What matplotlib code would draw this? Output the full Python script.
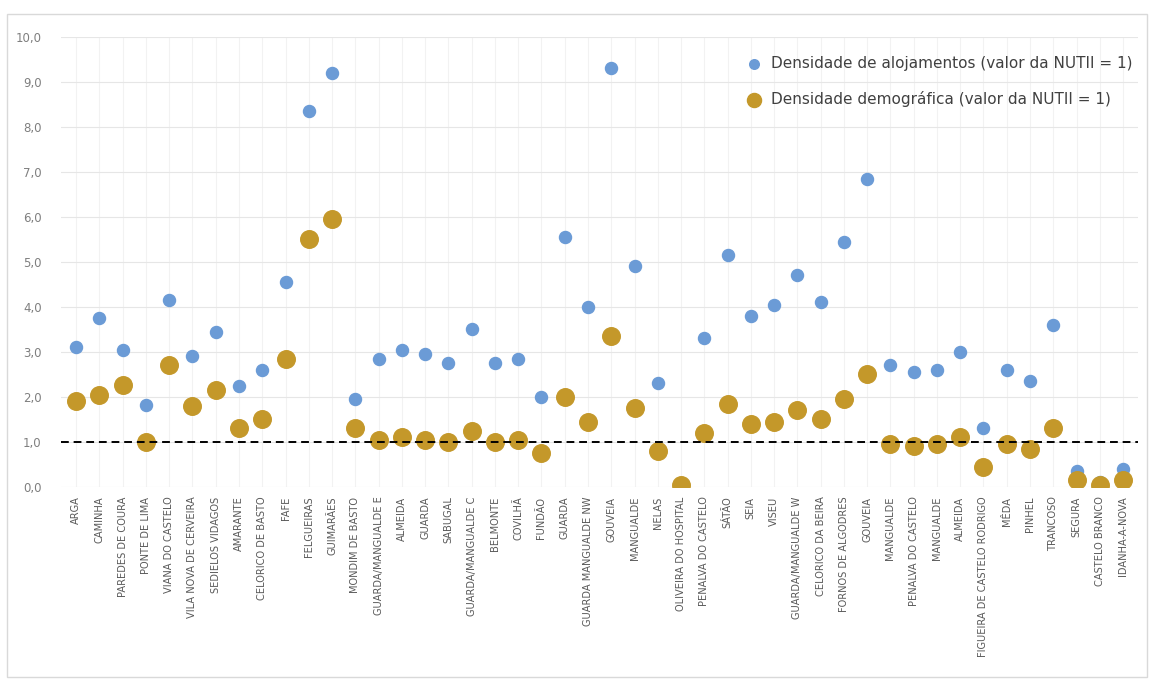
import matplotlib.pyplot as plt
from matplotlib.patches import Rectangle
from matplotlib.ticker import FuncFormatter

categorias = [
    'ARGA', 'CAMINHA', 'PAREDES DE COURA', 'PONTE DE LIMA', 'VIANA DO CASTELO',
    'VILA NOVA DE CERVEIRA', 'SEDIELOS VIDAGOS', 'AMARANTE', 'CELORICO DE BASTO',
    'FAFE', 'FELGUEIRAS', 'GUIMARÃES', 'MONDIM DE BASTO', 'GUARDA/MANGUALDE E',
    'ALMEIDA', 'GUARDA', 'SABUGAL', 'GUARDA/MANGUALDE C', 'BELMONTE', 'COVILHÃ',
    'FUNDÃO', 'GUARDA', 'GUARDA MANGUALDE NW', 'GOUVEIA', 'MANGUALDE', 'NELAS',
    'OLIVEIRA DO HOSPITAL', 'PENALVA DO CASTELO', 'SÁTÃO', 'SEIA', 'VISEU',
    'GUARDA/MANGUALDE W', 'CELORICO DA BEIRA', 'FORNOS DE ALGODRES', 'GOUVEIA',
    'MANGUALDE', 'PENALVA DO CASTELO', 'MANGUALDE', 'ALMEIDA',
    'FIGUEIRA DE CASTELO RODRIGO', 'MÊDA', 'PINHEL', 'TRANCOSO', 'SEGURA',
    'CASTELO BRANCO', 'IDANHA-A-NOVA',
]

dens_alojamentos = [
    3.1, 3.75, 3.05, 1.82, 4.15, 2.9, 3.45, 2.25, 2.6, 4.55,
    8.35, 9.2, 1.95, 2.85, 3.05, 2.95, 2.75, 3.5, 2.75, 2.85,
    2.0, 5.55, 4.0, 9.3, 4.9, 2.3, 0.05, 3.3, 5.15, 3.8,
    4.05, 4.7, 4.1, 5.45, 6.85, 2.7, 2.55, 2.6, 3.0, 1.3,
    2.6, 2.35, 3.6, 0.35, 0.1, 0.4,
]

dens_demografica = [
    1.9, 2.05, 2.27, 1.0, 2.7, 1.8, 2.15, 1.3, 1.5, 2.85,
    5.5, 5.95, 1.3, 1.05, 1.1, 1.05, 1.0, 1.25, 1.0, 1.05,
    0.75, 2.0, 1.45, 3.35, 1.75, 0.8, 0.05, 1.2, 1.85, 1.4,
    1.45, 1.7, 1.5, 1.95, 2.5, 0.95, 0.9, 0.95, 1.1, 0.45,
    0.95, 0.85, 1.3, 0.15, 0.05, 0.15,
]

azul = '#6b9bd6'
dourado = '#c4982a'

fig = plt.figure(figsize=(11.52, 6.8), dpi=100)
ax = fig.add_axes([0.053, 0.284, 0.935, 0.662])

x = list(range(len(categorias)))
ax.scatter(x, dens_alojamentos, s=75, color=azul, zorder=3,
           label='Densidade de alojamentos (valor da NUTII = 1)')
ax.scatter(x, dens_demografica, s=160, color=dourado, zorder=4,
           label='Densidade demográfica (valor da NUTII = 1)')
ax.axhline(1.0, color='black', linestyle=(0, (4, 2.5)), linewidth=1.4, zorder=5)

ax.set_ylim(0, 10)
ax.set_xlim(-0.65, len(categorias) - 0.35)
ax.set_yticks(range(0, 11))
ax.yaxis.set_major_formatter(FuncFormatter(lambda v, p: f'{v:.1f}'.replace('.', ',')))
ax.set_xticks(x)
ax.set_xticklabels(categorias, rotation=90, fontsize=7.1, color='#595959')
ax.tick_params(axis='y', labelsize=8.5, labelcolor='#7f7f7f', length=0, pad=14)
ax.tick_params(axis='x', length=0, pad=7)

ax.grid(axis='y', color='#e6e6e6', linewidth=0.8, zorder=0)
ax.grid(axis='x', color='#f2f2f2', linewidth=0.8, zorder=0)
for s in ax.spines.values():
    s.set_visible(False)

ax.legend(loc='upper right', frameon=False, fontsize=11, handletextpad=0.1,
          labelspacing=1.3, markerscale=0.8, borderaxespad=0.0,
          bbox_to_anchor=(1.0, 0.97), labelcolor='#404040')

fig.patches.append(Rectangle((0.006, 0.004), 0.99, 0.975, transform=fig.transFigure,
                             fill=False, edgecolor='#d9d9d9', linewidth=1))

fig.savefig('out.png', dpi=100)
